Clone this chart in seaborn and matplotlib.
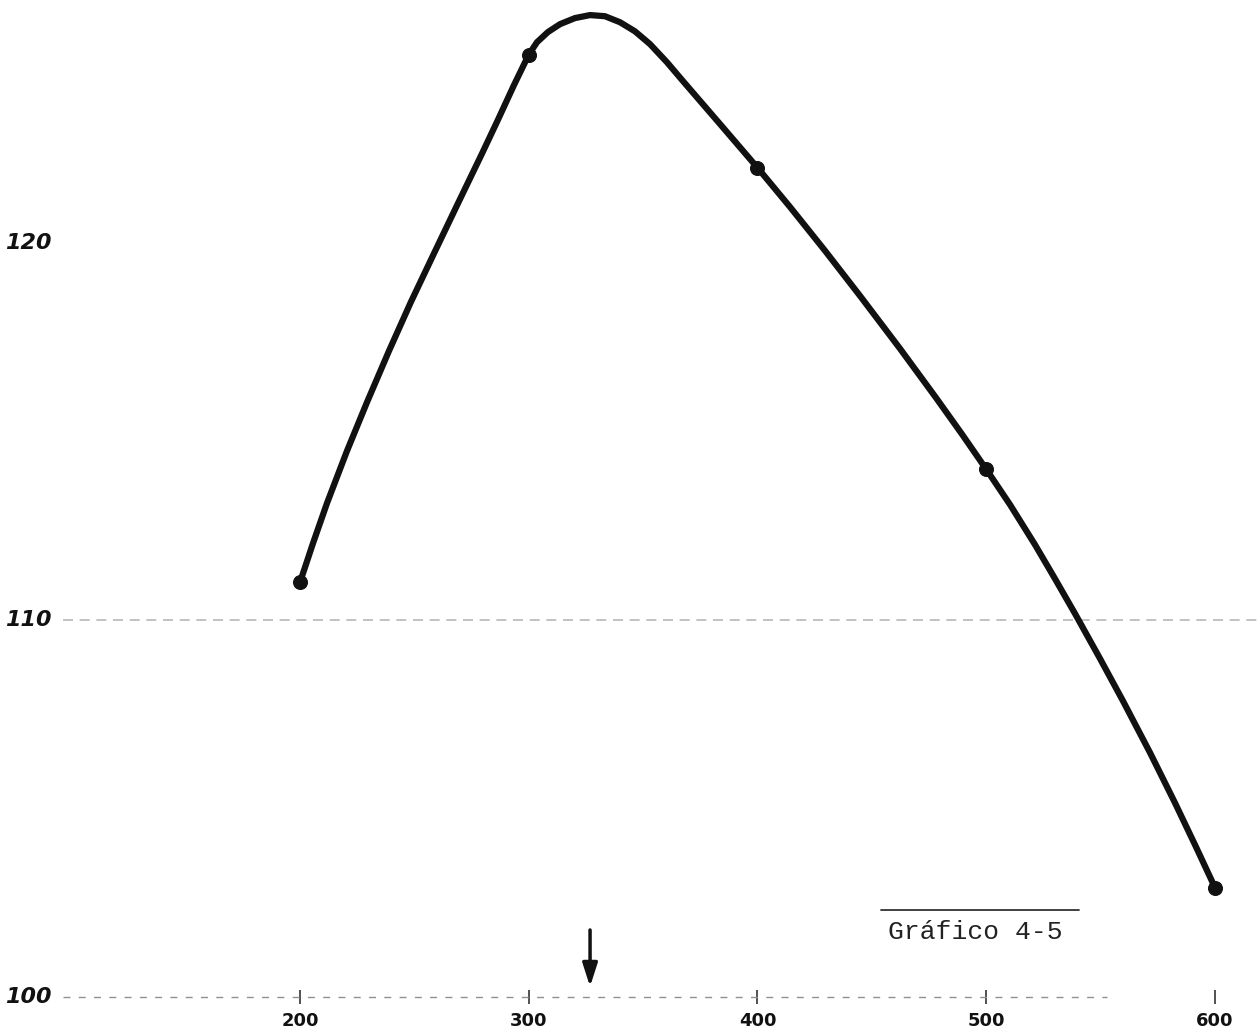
import numpy as np
import pandas as pd
import seaborn as sb
import matplotlib.pyplot as plt

sb.set_style("white")

# measured points (dots on the curve)
pts_x = [200, 300, 400, 500, 600]
pts_y = [111.0, 125.0, 122.0, 114.0, 102.9]

# the hand drawn curve
curve_x = [200, 205.7, 211.8, 220.5, 229.3, 238.9, 248.5, 258.6, 269.1, 279.6,
           286.6, 293.6, 300, 303.6, 308.4, 313.7, 320.2, 326.8, 333.3, 339.9,
           346.4, 353.0, 360.4, 367.4, 383.6, 400, 414.2, 429.5, 445.2, 462.3,
           478.0, 489.4, 500, 510.4, 521.3, 530.1, 538.8, 549.7, 559.8, 571.6,
           582.5, 591.7, 600]
curve_y = [111.0, 112.04, 113.10, 114.48, 115.78, 117.14, 118.44, 119.73, 121.06, 122.38,
           123.28, 124.20, 125.0, 125.33, 125.60, 125.81, 125.97, 126.05, 126.02, 125.86,
           125.62, 125.28, 124.80, 124.30, 123.16, 122.0, 120.96, 119.80, 118.57, 117.20,
           115.90, 114.93, 114.0, 113.06, 112.00, 111.09, 110.17, 108.98, 107.85, 106.48,
           105.15, 103.98, 102.9]

xticks = [200, 300, 400, 500, 600]
xtick_labels = ["200", "300", "400", "500", "600"]
yticks = [100, 110, 120]
ytick_labels = ["100", "110", "120"]

peak_x = 326.8
title = "Gráfico 4-5"

df_curve = pd.DataFrame({"x": curve_x, "y": curve_y})
df_pts = pd.DataFrame({"x": pts_x, "y": pts_y})

fig = plt.figure(figsize=(12.58, 10.35), dpi=100)
ax = fig.add_axes([0, 0, 1, 1])
ax.set_xlim(68.85, 618.8)
ax.set_ylim(98.99, 126.45)
ax.axis("off")

# faint scan lines at 110 and 100
ax.axhline(110, xmin=0.05, xmax=1, color="#b8b8b8", lw=1.2, ls=(0, (6, 4)))
ax.axhline(100, xmin=0.05, xmax=0.88, color="#909090", lw=1.0, ls=(0, (5, 6)))

sb.lineplot(data=df_curve, x="x", y="y", ax=ax, color="#111111", lw=4.5, sort=True,
            estimator=None, solid_joinstyle="round", solid_capstyle="round")
sb.scatterplot(data=df_pts, x="x", y="y", ax=ax, color="#111111", s=100,
               edgecolor="#111111", zorder=5)

# little ticks along the bottom
ax.scatter(xticks, [100] * len(xticks), marker="|", s=90, color="#333333", lw=1.2)

for t, lab in zip(xticks, xtick_labels):
    ax.text(t, 99.35, lab, ha="center", va="center", fontsize=13,
            fontweight="bold", color="#111111")
for t, lab in zip(yticks, ytick_labels):
    ax.text(71, t, lab, ha="left", va="center", fontsize=16,
            fontweight="bold", style="italic", color="#111111")

# caption with underline
ax.text(457.0, 101.72, title, ha="left", va="center", fontsize=19,
        family="Liberation Mono", color="#222222")
ax.axhline(102.31, xmin=0.70, xmax=0.858, color="#333333", lw=1.3)

# arrow pointing at the optimum
ax.annotate("", xy=(peak_x, 100.2), xytext=(peak_x, 101.85),
            arrowprops=dict(arrowstyle="-|>,head_length=1.4,head_width=0.45",
                            color="#111111", lw=2.5))

plt.savefig("out.png", dpi=100)
